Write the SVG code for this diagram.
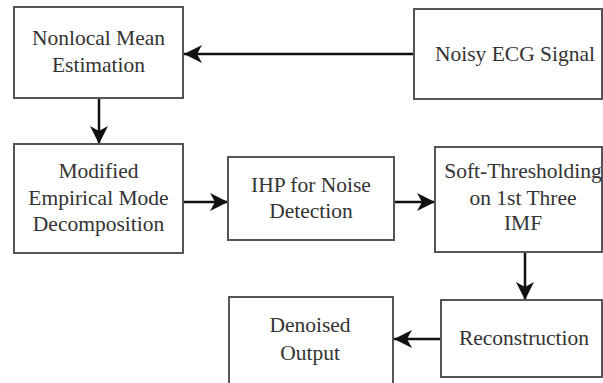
<svg xmlns="http://www.w3.org/2000/svg" width="603" height="383" viewBox="0 0 603 383">
  <defs>
    <marker id="arrow" viewBox="0 0 18 18" refX="18" refY="9" markerWidth="18" markerHeight="18" markerUnits="userSpaceOnUse" orient="auto">
      <path d="M0,0 L18,9 L0,18 L5,9 Z" fill="#111"/>
    </marker>
  </defs>
  <style>
    .box { fill: #ffffff; stroke: #555555; stroke-width: 2; }
    .lbl { font-family: 'Liberation Serif', 'DejaVu Serif', serif; font-size: 21.5px; fill: #333333; text-anchor: middle; }
    .edge { fill: none; stroke: #111111; stroke-width: 2.5; marker-end: url(#arrow); }
  </style>
  <rect width="603" height="383" fill="#ffffff"/>

  <g id="connectors">
    <line class="edge" x1="414" y1="54" x2="184" y2="54"/>
    <line class="edge" x1="99" y1="98" x2="99" y2="144"/>
    <line class="edge" x1="183" y1="202" x2="228" y2="202"/>
    <line class="edge" x1="394" y1="202" x2="435" y2="202"/>
    <line class="edge" x1="525" y1="252" x2="525" y2="300"/>
    <line class="edge" x1="441" y1="339" x2="394" y2="339"/>
  </g>

  <g id="nonlocal-mean">
    <rect class="box" x="14" y="7" width="169" height="91"/>
    <text class="lbl" x="98.5" y="45">Nonlocal Mean</text>
    <text class="lbl" x="98.5" y="72">Estimation</text>
  </g>

  <g id="noisy-ecg">
    <rect class="box" x="414" y="9" width="188" height="90"/>
    <text class="lbl" x="515" y="61">Noisy ECG Signal</text>
  </g>

  <g id="modified-emd">
    <rect class="box" x="14" y="144" width="169" height="109"/>
    <text class="lbl" x="98.5" y="178">Modified</text>
    <text class="lbl" x="98.5" y="205">Empirical Mode</text>
    <text class="lbl" x="98.5" y="231">Decomposition</text>
  </g>

  <g id="ihp-noise">
    <rect class="box" x="228" y="157" width="166" height="83"/>
    <text class="lbl" x="311" y="192">IHP for Noise</text>
    <text class="lbl" x="311" y="218">Detection</text>
  </g>

  <g id="soft-thresholding">
    <rect class="box" x="435" y="147" width="167" height="105"/>
    <text class="lbl" x="523" y="178">Soft-Thresholding</text>
    <text class="lbl" x="523" y="205">on 1st Three</text>
    <text class="lbl" x="523" y="230">IMF</text>
  </g>

  <g id="reconstruction">
    <rect class="box" x="441" y="300" width="161" height="77"/>
    <text class="lbl" x="524" y="345">Reconstruction</text>
  </g>

  <g id="denoised-output">
    <rect class="box" x="229" y="297" width="164" height="88"/>
    <text class="lbl" x="310" y="332">Denoised</text>
    <text class="lbl" x="310" y="360">Output</text>
  </g>
</svg>
